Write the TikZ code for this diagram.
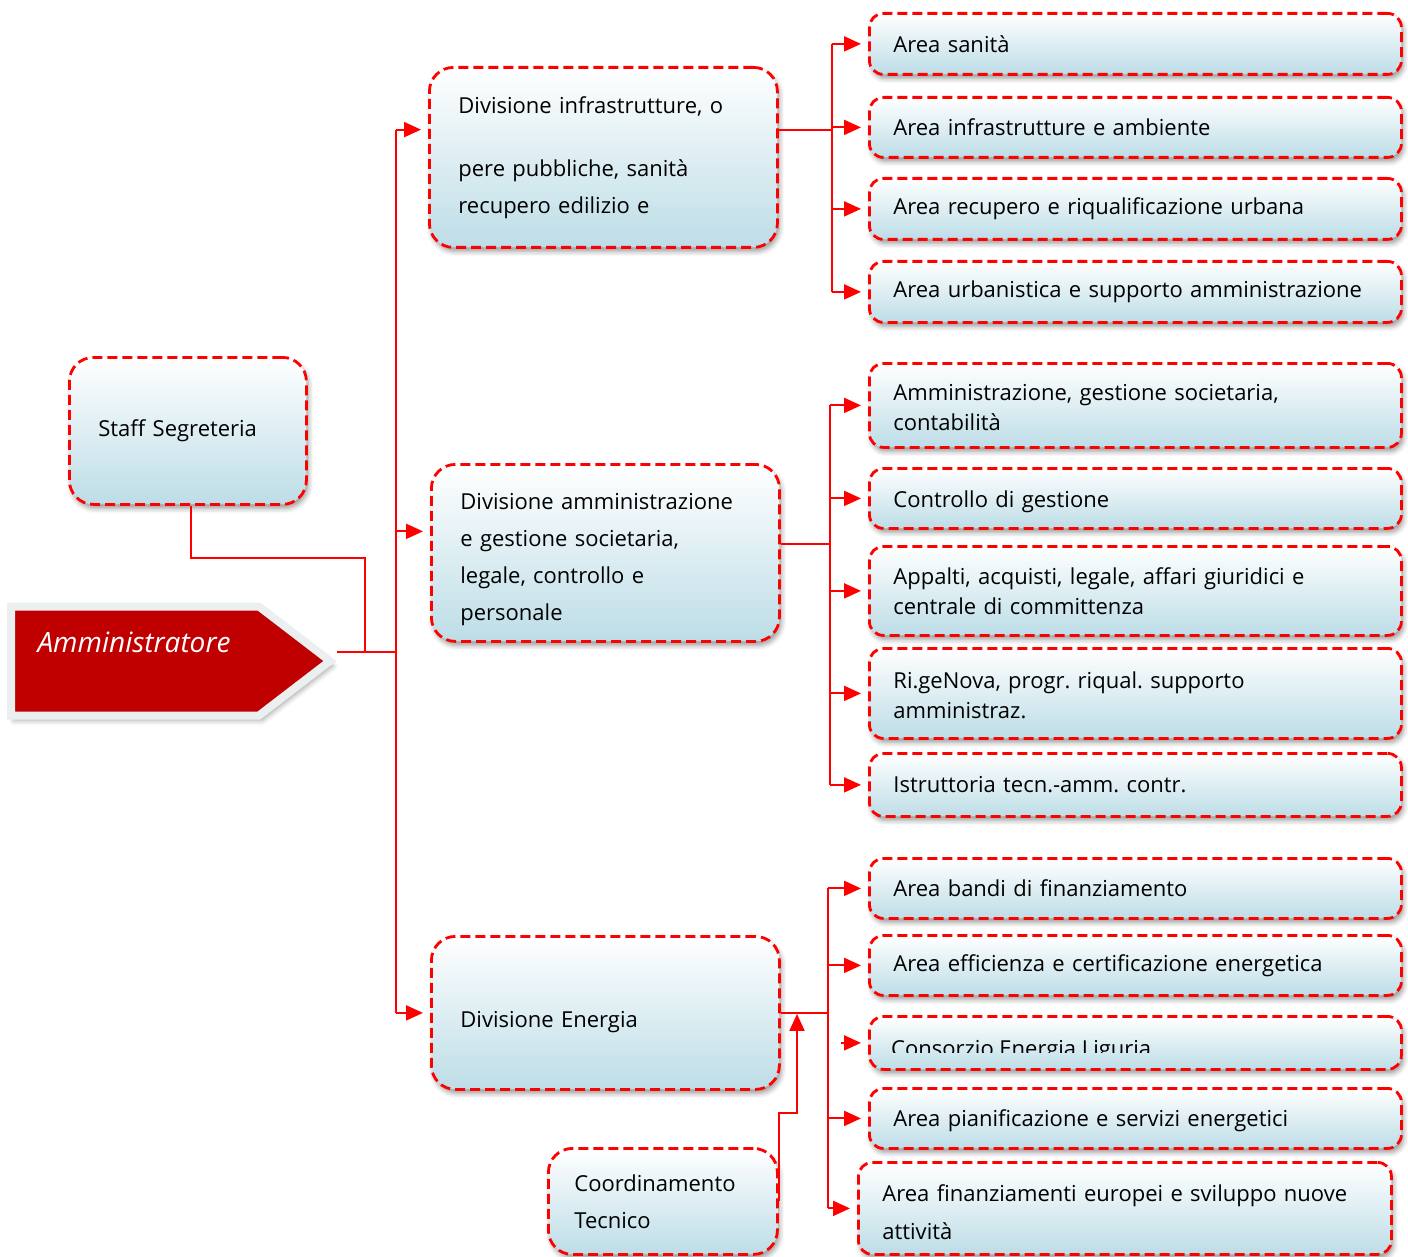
\documentclass[tikz,border=0pt]{standalone}
\usepackage{fontspec}
\setmainfont{Open Sans}
\usepackage{tikz}
\usetikzlibrary{arrows.meta,shapes.symbols,shadows.blur}
\definecolor{boxblue}{RGB}{189,221,231}
\definecolor{admred}{RGB}{192,0,0}
\definecolor{admgray}{RGB}{236,239,240}

\begin{document}
\frenchspacing
\begin{tikzpicture}[x=1pt,y=-1pt,
  font=\fontsize{22}{30}\selectfont,
  box/.style={draw=red, line width=2.8pt, dash pattern=on 10pt off 5pt,
    rounded corners=14pt, top color=white, bottom color=boxblue,
    blur shadow={shadow xshift=2pt, shadow yshift=-4pt, shadow blur radius=5pt, shadow opacity=40},
    anchor=north west, align=left, inner xsep=24pt, inner ysep=0pt},
  area/.style={box, minimum width=532pt, text width=484pt},
  divbox/.style={box, rounded corners=24pt, inner xsep=29pt, font=\fontsize{22}{37}\selectfont},
  adm/.style={signal, signal to=east, signal pointer angle=75, fill=admred, draw=admgray,
    line width=8pt, minimum width=319pt, minimum height=109pt, anchor=west,
    blur shadow={shadow xshift=3pt, shadow yshift=-5pt, shadow blur radius=5pt, shadow opacity=35}},
  conn/.style={draw=red, line width=2pt},
  arr/.style={conn, -{Triangle[length=17pt,width=15pt]}, shorten >=7pt}]
  \useasboundingbox (0,0) rectangle (1408,1257);

  % Amministratore and staff
  \node[adm] (admin) at (7,661) {};
  \node[font=\fontsize{28}{30}\selectfont\itshape, text=white, anchor=base west] (admtxt)
    at ([xshift=27pt,yshift=9pt]admin.west) {Amministratore};
  \node[divbox, minimum width=237pt, minimum height=147pt, text width=179pt] (staff) at (68,356) {Staff Segreteria};

  % Divisions
  \node[divbox, minimum width=348pt, minimum height=180pt, text width=290pt] (div1) at (428,66)
    {Divisione infrastrutture, o\\[26pt]pere pubbliche, sanità\\recupero edilizio e};
  \node[divbox, minimum width=348pt, minimum height=177pt, text width=290pt, text height=29pt] (div2) at (430,463)
    {Divisione amministrazione\\e gestione societaria,\\legale, controllo e\\personale};
  \node[divbox, minimum width=348pt, minimum height=153pt, text width=290pt, text height=34pt] (div3) at (430,935)
    {Divisione Energia};
  \node[divbox, inner xsep=26pt, minimum width=229pt, minimum height=106pt, text width=177pt] (coord) at (547,1147)
    {Coordinamento\\Tecnico};

  % Areas, first division
  \node[area, minimum height=61pt] (sanita) at (868,12) {Area sanità};
  \node[area, minimum height=60pt] (infra) at (868,96) {Area infrastrutture e ambiente};
  \node[area, minimum height=61pt] (recup) at (868,177) {Area recupero e riqualificazione urbana};
  \node[area, minimum height=61pt] (urban) at (868,260) {Area urbanistica e supporto amministrazione};

  % Areas, second division
  \node[area, minimum height=84pt, text height=21pt] (ammin) at (868,362) {Amministrazione, gestione societaria,\\contabilità};
  \node[area, minimum height=60pt, text height=24pt] (contr) at (868,467) {Controllo di gestione};
  \node[area, minimum height=89pt] (appal) at (868,545) {Appalti, acquisti, legale, affari giuridici e\\centrale di committenza};
  \node[area, minimum height=90pt, text height=21pt] (rigen) at (868,647) {Ri.geNova, progr. riqual. supporto\\amministraz.};
  \node[area, minimum height=63pt] (istru) at (868,752) {Istruttoria tecn.-amm. contr.};

  % Areas, third division
  \node[area, minimum height=60pt] (bandi) at (868,857) {Area bandi di finanziamento};
  \node[area, minimum height=60pt] (effic) at (868,934) {Area efficienza e certificazione energetica};
  \node[area, minimum height=53pt] (consor) at (868,1015) {};
  \begin{scope}
    \clip (868,1015) rectangle (1400,1052);
    \node[anchor=base west, inner sep=0pt] (consortxt) at ([xshift=23pt]consor.west |- 0,1056) {Consorzio Energia Liguria};
  \end{scope}
  \node[area, minimum height=60pt, text height=21pt] (piani) at (868,1087) {Area pianificazione e servizi energetici};
  \node[area, minimum width=533pt, text width=485pt, minimum height=92pt, text height=25pt, font=\fontsize{22}{38}\selectfont] (finan) at (857,1161)
    {Area finanziamenti europei e sviluppo nuove\\attività};

  % Main bus
  \coordinate (hub) at (396,652);
  \coordinate (stj) at (365,652);
  \draw[conn] (admin.east |- hub) -- (hub);
  \draw[conn] (staff.south) ++(3.5,0) -- ++(0,52) -| (stj);
  \draw[conn] (hub |- div1.171) -- (hub |- div3.west);
  \foreach \d/\a in {div1/171,div2/173,div3/180}
    \draw[arr] (hub |- \d.\a) -- (\d.\a);

  % First division
  \coordinate (b1) at (832,0);
  \draw[conn] (div1.9) -- (b1 |- div1.9);
  \draw[conn] (b1 |- sanita.west) -- (b1 |- urban.west);
  \foreach \n in {sanita,infra,recup,urban}
    \draw[arr] (b1 |- \n.west) -- (\n.west);

  % Second division
  \coordinate (b2) at (830,0);
  \draw[conn] (div2.3) -- (b2 |- div2.3);
  \draw[conn] (b2 |- ammin.west) -- (b2 |- istru.west);
  \foreach \n in {ammin,contr,appal,rigen,istru}
    \draw[arr] (b2 |- \n.west) -- (\n.west);

  % Third division
  \coordinate (b3) at (828,0);
  \draw[conn] (div3.east) -- (b3 |- div3.east);
  \draw[conn] (b3 |- bandi.west) -- (b3 |- finan.west);
  \foreach \n in {bandi,effic,piani,finan}
    \draw[arr] (b3 |- \n.west) -- (\n.west);
  \draw[arr] ([xshift=-27pt]consor.west) -- (consor.west);

  % Coordinamento
  \coordinate (cj) at (797,0);
  \draw[arr, shorten >=1pt] (coord.east) -- ++(0,-88) -| (cj |- div3.east);
\end{tikzpicture}
\end{document}
